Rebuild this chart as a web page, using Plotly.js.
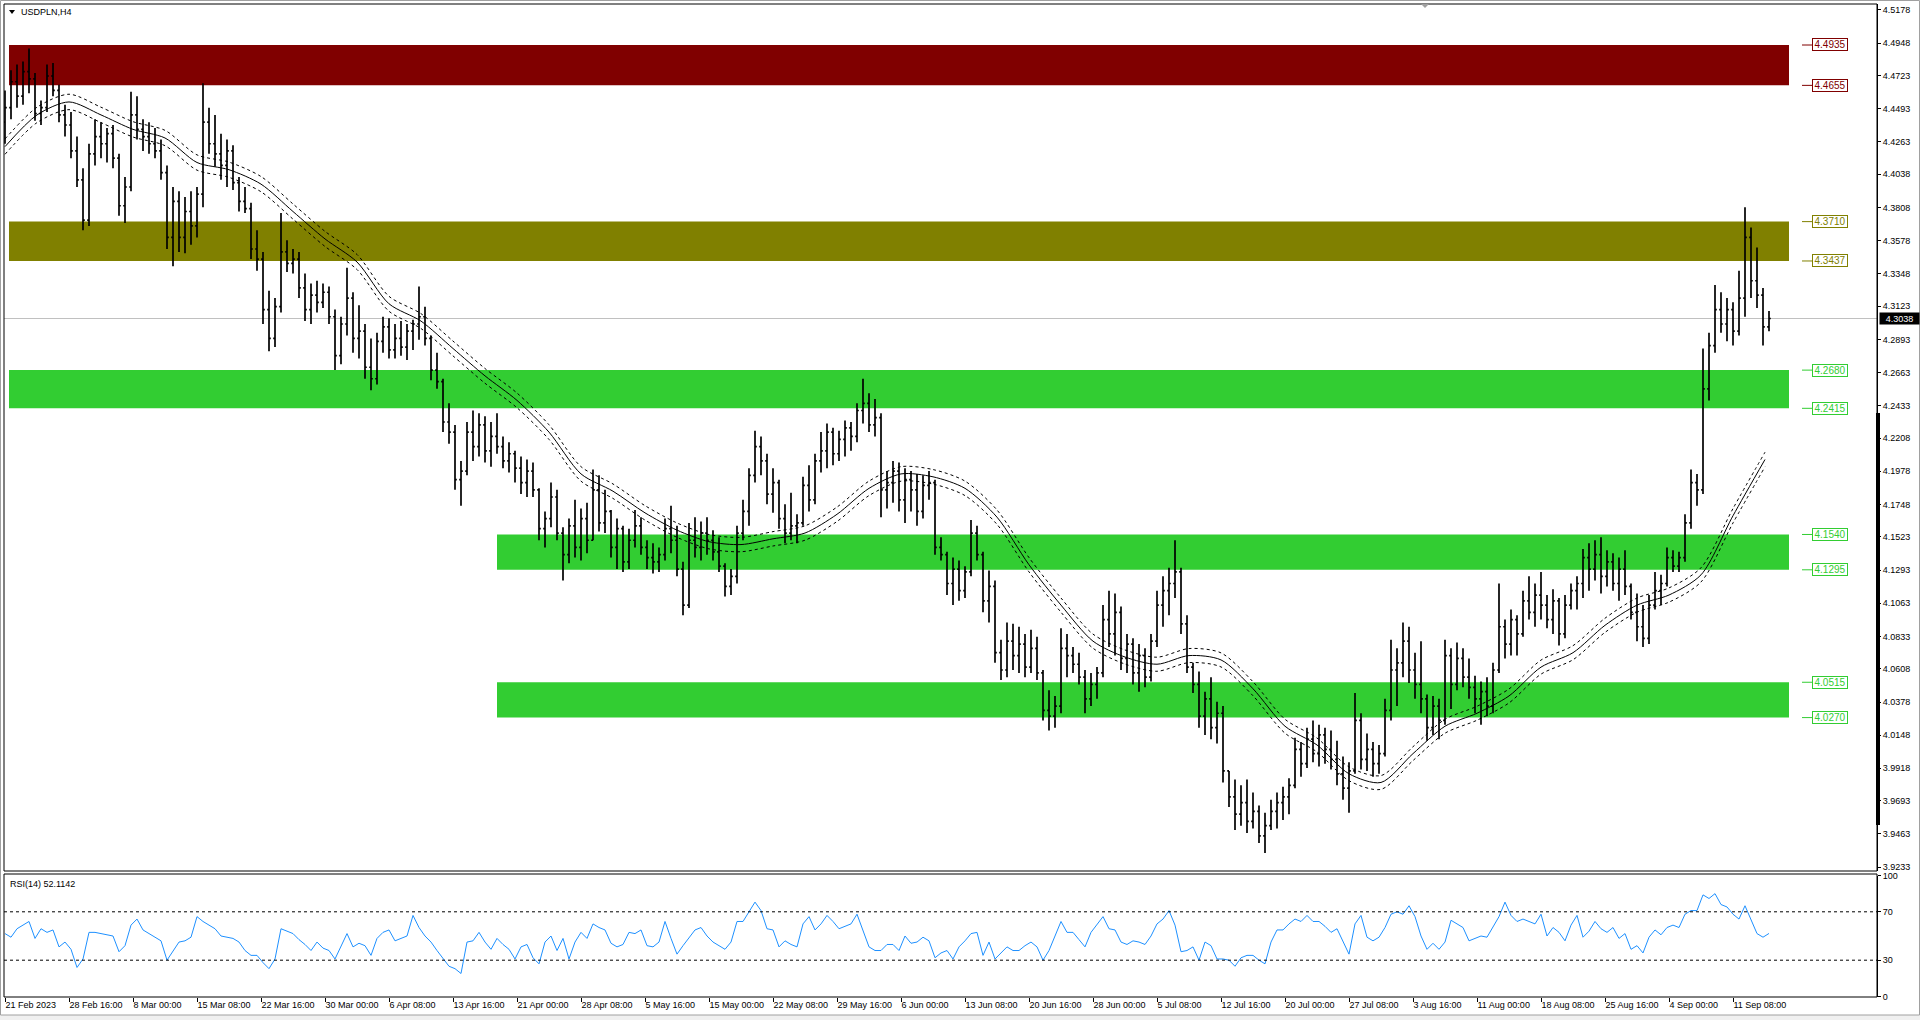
<!DOCTYPE html>
<html><head><meta charset="utf-8">
<script src="https://cdn.plot.ly/plotly-3.0.1.min.js"></script>
<style>html,body{margin:0;padding:0;background:#fff;overflow:hidden}#chart{width:1920px;height:1020px}</style>
</head><body><div id="chart"></div>
<script>
// ---------- data ----------
const symbolTitle = "USDPLN,H4";
const rsiTitle = "RSI(14) 52.1142";
const barStep = 3; // each drawn bar spans 3 H4 bars

const barOpen = [
4.440,4.450,4.468,4.458,4.475,4.470,4.446,4.450,4.472,4.462,
4.445,4.438,4.420,4.400,4.372,4.418,4.430,4.425,4.432,4.415,
4.382,4.395,4.445,4.435,4.430,4.425,4.420,4.405,4.360,4.385,
4.360,4.378,4.368,4.390,4.440,4.425,4.418,4.410,4.420,4.398,
4.385,4.380,4.352,4.345,4.310,4.290,4.312,4.350,4.342,4.345,
4.325,4.310,4.320,4.315,4.322,4.305,4.278,4.300,4.318,4.290,
4.295,4.270,4.262,4.288,4.298,4.282,4.290,4.284,4.295,4.300,
4.305,4.290,4.268,4.260,4.232,4.225,4.192,4.198,4.225,4.215,
4.230,4.212,4.222,4.215,4.205,4.210,4.200,4.190,4.198,4.185,
4.158,4.165,4.180,4.155,4.140,4.160,4.145,4.165,4.150,4.185,
4.162,4.170,4.145,4.158,4.135,4.150,4.160,4.145,4.138,4.135,
4.140,4.158,4.150,4.130,4.105,4.150,4.145,4.155,4.150,4.142,
4.132,4.118,4.125,4.155,4.170,4.195,4.215,4.205,4.182,4.190,
4.165,4.155,4.160,4.162,4.188,4.178,4.205,4.212,4.225,4.210,
4.220,4.228,4.222,4.240,4.245,4.230,4.235,4.185,4.190,4.198,
4.178,4.192,4.185,4.170,4.188,4.190,4.145,4.140,4.120,4.130,
4.115,4.128,4.155,4.140,4.108,4.118,4.072,4.060,4.080,4.070,
4.078,4.062,4.075,4.058,4.032,4.028,4.035,4.075,4.070,4.064,
4.055,4.040,4.050,4.058,4.095,4.085,4.100,4.068,4.078,4.058,
4.070,4.055,4.080,4.105,4.115,4.120,4.128,4.092,4.062,4.050,
4.028,4.040,4.020,4.030,3.990,3.972,3.960,3.968,3.955,3.962,
3.945,3.952,3.962,3.968,3.972,3.980,4.005,3.995,4.012,4.002,
4.015,4.005,3.998,3.988,3.978,3.990,4.025,3.998,4.005,3.995,
4.002,4.032,4.060,4.065,4.080,4.060,4.050,4.040,4.020,4.035,
4.025,4.070,4.050,4.068,4.055,4.048,4.040,4.045,4.035,4.060,
4.090,4.078,4.095,4.085,4.108,4.100,4.112,4.105,4.095,4.108,
4.085,4.105,4.115,4.120,4.138,4.130,4.140,4.125,4.135,4.120,
4.130,4.118,4.100,4.090,4.082,4.105,4.115,4.120,4.138,4.132,
4.138,4.162,4.190,4.185,4.255,4.285,4.310,4.300,4.310,4.295,
4.318,4.360,4.330,4.320,4.298];

const barHigh = [
4.462,4.476,4.480,4.482,4.491,4.474,4.455,4.480,4.481,4.466,
4.452,4.447,4.430,4.408,4.425,4.442,4.440,4.436,4.438,4.418,
4.402,4.461,4.458,4.442,4.440,4.436,4.428,4.410,4.395,4.392,
4.388,4.392,4.395,4.467,4.450,4.445,4.432,4.428,4.424,4.402,
4.395,4.384,4.365,4.350,4.323,4.318,4.377,4.358,4.352,4.350,
4.335,4.328,4.330,4.328,4.326,4.310,4.305,4.339,4.322,4.313,
4.300,4.290,4.294,4.305,4.304,4.300,4.302,4.300,4.303,4.326,
4.312,4.292,4.280,4.262,4.245,4.230,4.205,4.232,4.240,4.238,
4.236,4.232,4.238,4.222,4.218,4.212,4.208,4.206,4.204,4.186,
4.170,4.190,4.185,4.159,4.165,4.178,4.172,4.176,4.199,4.195,
4.185,4.171,4.165,4.160,4.158,4.171,4.166,4.150,4.148,4.145,
4.165,4.174,4.160,4.135,4.162,4.166,4.163,4.166,4.157,4.152,
4.134,4.130,4.160,4.178,4.200,4.226,4.222,4.210,4.200,4.192,
4.175,4.183,4.168,4.194,4.202,4.210,4.225,4.231,4.228,4.226,
4.233,4.232,4.245,4.262,4.252,4.248,4.238,4.198,4.205,4.204,
4.200,4.198,4.196,4.195,4.198,4.192,4.152,4.142,4.138,4.136,
4.132,4.164,4.160,4.142,4.129,4.122,4.081,4.093,4.092,4.090,
4.085,4.088,4.083,4.060,4.046,4.042,4.089,4.085,4.076,4.072,
4.060,4.058,4.062,4.105,4.115,4.113,4.104,4.085,4.082,4.078,
4.075,4.085,4.115,4.125,4.131,4.150,4.131,4.098,4.065,4.059,
4.045,4.055,4.038,4.035,3.990,3.984,3.980,3.984,3.975,3.966,
3.961,3.970,3.975,3.979,3.985,4.013,4.010,4.020,4.025,4.022,
4.020,4.018,4.011,4.000,3.996,4.044,4.030,4.016,4.010,4.008,
4.040,4.081,4.075,4.093,4.090,4.072,4.080,4.043,4.042,4.040,
4.081,4.075,4.079,4.075,4.068,4.056,4.052,4.055,4.065,4.120,
4.095,4.102,4.098,4.115,4.125,4.120,4.128,4.112,4.116,4.110,
4.112,4.120,4.125,4.144,4.148,4.150,4.152,4.143,4.141,4.138,
4.143,4.120,4.113,4.105,4.112,4.128,4.126,4.145,4.143,4.142,
4.168,4.199,4.196,4.283,4.294,4.327,4.322,4.318,4.315,4.337,
4.381,4.367,4.353,4.325,4.309];

const barLow = [
4.425,4.442,4.450,4.452,4.460,4.441,4.438,4.447,4.458,4.440,
4.430,4.415,4.395,4.365,4.368,4.410,4.415,4.412,4.408,4.375,
4.370,4.392,4.428,4.420,4.418,4.415,4.400,4.352,4.340,4.350,
4.349,4.355,4.360,4.381,4.418,4.409,4.400,4.395,4.393,4.378,
4.377,4.345,4.337,4.300,4.281,4.284,4.308,4.336,4.335,4.318,
4.302,4.300,4.308,4.311,4.300,4.268,4.272,4.292,4.280,4.276,
4.262,4.254,4.258,4.280,4.276,4.276,4.278,4.275,4.282,4.289,
4.285,4.261,4.255,4.225,4.217,4.185,4.174,4.195,4.205,4.208,
4.204,4.201,4.210,4.200,4.197,4.190,4.182,4.180,4.180,4.150,
4.145,4.159,4.150,4.122,4.134,4.138,4.136,4.141,4.150,4.156,
4.155,4.138,4.130,4.128,4.130,4.145,4.140,4.130,4.127,4.128,
4.136,4.141,4.125,4.098,4.103,4.138,4.136,4.140,4.136,4.128,
4.111,4.112,4.120,4.150,4.160,4.190,4.195,4.175,4.169,4.158,
4.148,4.150,4.148,4.160,4.170,4.175,4.197,4.200,4.202,4.205,
4.208,4.212,4.218,4.231,4.225,4.222,4.166,4.172,4.176,4.170,
4.162,4.170,4.160,4.165,4.178,4.140,4.136,4.112,4.105,4.108,
4.110,4.125,4.136,4.100,4.093,4.065,4.053,4.055,4.060,4.058,
4.055,4.058,4.053,4.025,4.018,4.020,4.030,4.055,4.058,4.050,
4.030,4.035,4.040,4.055,4.076,4.070,4.060,4.058,4.050,4.045,
4.048,4.052,4.076,4.090,4.098,4.110,4.085,4.058,4.044,4.020,
4.015,4.012,4.009,3.982,3.965,3.949,3.952,3.947,3.950,3.940,
3.933,3.949,3.950,3.956,3.960,3.978,3.986,3.992,3.996,3.993,
3.995,3.991,3.980,3.970,3.961,3.988,3.991,3.990,3.986,3.988,
4.000,4.025,4.035,4.055,4.051,4.040,4.030,4.011,4.015,4.012,
4.022,4.033,4.046,4.048,4.040,4.030,4.022,4.028,4.030,4.058,
4.068,4.070,4.070,4.083,4.095,4.090,4.095,4.089,4.085,4.077,
4.082,4.102,4.102,4.110,4.115,4.122,4.113,4.118,4.115,4.108,
4.112,4.095,4.080,4.076,4.078,4.102,4.105,4.118,4.128,4.128,
4.135,4.158,4.174,4.182,4.247,4.280,4.294,4.288,4.285,4.292,
4.305,4.318,4.311,4.285,4.295];

const barClose = [
4.450,4.468,4.458,4.475,4.470,4.446,4.450,4.472,4.462,4.445,
4.438,4.420,4.400,4.372,4.418,4.430,4.425,4.432,4.415,4.382,
4.395,4.445,4.435,4.430,4.425,4.420,4.405,4.360,4.385,4.360,
4.378,4.368,4.390,4.440,4.425,4.418,4.410,4.420,4.398,4.385,
4.380,4.352,4.345,4.310,4.290,4.312,4.350,4.342,4.345,4.325,
4.310,4.320,4.315,4.322,4.305,4.278,4.300,4.318,4.290,4.295,
4.270,4.262,4.288,4.298,4.282,4.290,4.284,4.295,4.300,4.305,
4.290,4.268,4.260,4.232,4.225,4.192,4.198,4.225,4.215,4.230,
4.212,4.222,4.215,4.205,4.210,4.200,4.190,4.198,4.185,4.158,
4.165,4.180,4.155,4.140,4.160,4.145,4.165,4.150,4.185,4.162,
4.170,4.145,4.158,4.135,4.150,4.160,4.145,4.138,4.135,4.140,
4.158,4.150,4.130,4.105,4.150,4.145,4.155,4.150,4.142,4.132,
4.118,4.125,4.155,4.170,4.195,4.215,4.205,4.182,4.190,4.165,
4.155,4.160,4.162,4.188,4.178,4.205,4.212,4.225,4.210,4.220,
4.228,4.222,4.240,4.245,4.230,4.235,4.185,4.190,4.198,4.178,
4.192,4.185,4.170,4.188,4.190,4.145,4.140,4.120,4.130,4.115,
4.128,4.155,4.140,4.108,4.118,4.072,4.060,4.080,4.070,4.078,
4.062,4.075,4.058,4.032,4.028,4.035,4.075,4.070,4.064,4.055,
4.040,4.050,4.058,4.095,4.085,4.100,4.068,4.078,4.058,4.070,
4.055,4.080,4.105,4.115,4.120,4.128,4.092,4.062,4.050,4.028,
4.040,4.020,4.030,3.990,3.972,3.960,3.968,3.955,3.962,3.945,
3.952,3.962,3.968,3.972,3.980,4.005,3.995,4.012,4.002,4.015,
4.005,3.998,3.988,3.978,3.990,4.025,3.998,4.005,3.995,4.002,
4.032,4.060,4.065,4.080,4.060,4.050,4.040,4.020,4.035,4.025,
4.070,4.050,4.068,4.055,4.048,4.040,4.045,4.035,4.060,4.090,
4.078,4.095,4.085,4.108,4.100,4.112,4.105,4.095,4.108,4.085,
4.105,4.115,4.120,4.138,4.130,4.140,4.125,4.135,4.120,4.130,
4.118,4.100,4.090,4.082,4.105,4.115,4.120,4.138,4.132,4.138,
4.162,4.190,4.185,4.255,4.285,4.310,4.300,4.310,4.295,4.318,
4.360,4.330,4.320,4.298,4.3038];

// moving average (read every 16 H4 bars)
const maStep = 16;
const maValues = [
4.423,4.445,4.454,4.445,4.435,4.429,4.412,4.407,4.397,4.378,
4.359,4.343,4.314,4.302,4.283,4.264,4.247,4.225,4.196,4.184,
4.169,4.157,4.149,4.147,4.151,4.155,4.168,4.186,4.196,4.194,
4.186,4.166,4.133,4.105,4.080,4.069,4.064,4.070,4.067,4.047,
4.021,4.008,3.988,3.982,4.002,4.021,4.030,4.042,4.062,4.072,
4.091,4.105,4.112,4.126,4.167,4.206];
const envelopePct = 0.12;

// RSI(14), one reading per drawn bar
const rsiValues = [
52,49,56,59,62,48,56,53,55,41,
45,39,24,31,53,53,52,51,50,37,
42,59,64,55,52,49,46,30,37,45,
46,49,66,62,59,56,50,49,48,45,
38,34,34,28,23,31,56,54,52,47,
43,38,45,40,38,31,42,52,41,44,
42,34,48,53,55,46,48,50,67,57,
50,45,38,31,25,23,19,45,46,53,
45,39,48,43,39,31,41,43,32,27,
45,50,38,48,31,45,53,48,60,57,
55,44,41,43,53,52,55,42,41,45,
62,48,35,42,49,55,57,50,45,42,
39,45,62,62,70,78,71,56,55,41,
46,43,41,60,66,55,60,67,62,56,
58,60,68,55,41,38,38,43,43,38,
50,44,45,49,46,32,36,38,31,41,
46,52,53,34,45,31,36,41,38,38,
42,45,41,30,38,50,62,53,53,47,
41,53,60,66,56,55,45,43,46,45,
43,50,60,64,71,59,37,38,41,30,
45,42,31,31,30,25,32,34,34,30,
27,45,55,55,60,64,62,67,62,62,
58,53,56,46,35,60,67,49,46,49,
57,68,70,68,75,66,50,39,44,39,
45,63,60,57,46,48,50,49,58,66,
78,67,62,64,62,60,68,50,57,53,
46,59,67,49,54,62,56,53,57,48,
52,39,42,36,49,55,51,57,59,57,
68,71,71,84,81,85,76,74,68,64,
75,64,52,49,52.1142];
const rsiLevels = [30, 70];
const rsiTicks = [0, 30, 70, 100];

const dateLabelStep = 32;
const dateLabels = ["21 Feb 2023","28 Feb 16:00","8 Mar 00:00","15 Mar 08:00","22 Mar 16:00","30 Mar 00:00",
"6 Apr 08:00","13 Apr 16:00","21 Apr 00:00","28 Apr 08:00","5 May 16:00","15 May 00:00","22 May 08:00",
"29 May 16:00","6 Jun 00:00","13 Jun 08:00","20 Jun 16:00","28 Jun 00:00","5 Jul 08:00","12 Jul 16:00",
"20 Jul 00:00","27 Jul 08:00","3 Aug 16:00","11 Aug 00:00","18 Aug 08:00","25 Aug 16:00","4 Sep 00:00","11 Sep 08:00"];

const priceTicks = [4.5178,4.4948,4.4723,4.4493,4.4263,4.4038,4.3808,4.3578,4.3348,4.3123,4.2893,4.2663,
4.2433,4.2208,4.1978,4.1748,4.1523,4.1293,4.1063,4.0833,4.0608,4.0378,4.0148,3.9918,3.9693,3.9463,3.9233];
const currentPrice = 4.3038;

// zones (rectangles) with their level labels
const zoneTop = [4.4935, 4.3710, 4.2680, 4.1540, 4.0515];
const zoneBottom = [4.4655, 4.3437, 4.2415, 4.1295, 4.0270];
const zoneStartBar = [2, 2, 2, 246, 246];
const zoneEndBar = [892, 892, 892, 892, 892];
const zoneColor = ["#800000", "#808000", "#32cd32", "#32cd32", "#32cd32"];

// ---------- drawing ----------
const W = 1920, H = 1020;
const px = x => x / W;
const py = y => 1 - y / H;
const FONT = "Liberation Sans, Arial, sans-serif";

const barX = barClose.map((_, j) => j * barStep);
const maX = maValues.map((_, k) => k * maStep);
const maUpper = maValues.map(v => v * (1 + envelopePct / 100));
const maLower = maValues.map(v => v * (1 - envelopePct / 100));

const traces = [
  {type: "ohlc", x: barX, open: barOpen, high: barHigh, low: barLow, close: barClose,
   xaxis: "x", yaxis: "y", tickwidth: 0.3, hoverinfo: "skip",
   increasing: {line: {color: "#000", width: 1.7}}, decreasing: {line: {color: "#000", width: 1.7}}},
  {type: "scatter", mode: "lines", x: maX, y: maValues, xaxis: "x", yaxis: "y", hoverinfo: "skip",
   line: {color: "#000", width: 1, shape: "spline", smoothing: 0.8}},
  {type: "scatter", mode: "lines", x: maX, y: maUpper, xaxis: "x", yaxis: "y", hoverinfo: "skip",
   line: {color: "#000", width: 1, dash: "3px,3px", shape: "spline", smoothing: 0.8}},
  {type: "scatter", mode: "lines", x: maX, y: maLower, xaxis: "x", yaxis: "y", hoverinfo: "skip",
   line: {color: "#000", width: 1, dash: "3px,3px", shape: "spline", smoothing: 0.8}},
  {type: "scatter", mode: "lines", x: barX, y: rsiValues, xaxis: "x", yaxis: "y2", hoverinfo: "skip",
   line: {color: "#1e90ff", width: 1}}
];

const shapes = [];
const annotations = [];

// outer window frame
shapes.push({type: "rect", xref: "paper", yref: "paper", x0: px(0), x1: px(1920), y0: py(1020), y1: py(1015),
  fillcolor: "#f0f0f0", line: {width: 0}, layer: "below"});
shapes.push({type: "rect", xref: "paper", yref: "paper", x0: px(0.5), x1: px(1919.5), y0: py(1015), y1: py(0.5),
  fillcolor: "rgba(0,0,0,0)", line: {color: "#a0a0a0", width: 1}});

zoneTop.forEach((top, i) => {
  shapes.push({type: "rect", xref: "x", yref: "y", x0: zoneStartBar[i], x1: zoneEndBar[i],
    y0: zoneBottom[i], y1: top, fillcolor: zoneColor[i], line: {width: 0}, layer: "below"});
  [top, zoneBottom[i]].forEach(v => {
    shapes.push({type: "line", xref: "paper", yref: "y", x0: px(1802), x1: px(1812), y0: v, y1: v,
      line: {color: zoneColor[i], width: 1}});
    annotations.push({xref: "paper", yref: "y", x: px(1812), y: v, xanchor: "left", yanchor: "middle",
      text: v.toFixed(4), showarrow: false, font: {family: FONT, size: 10, color: zoneColor[i]},
      bgcolor: "#fff", bordercolor: zoneColor[i], borderwidth: 1, borderpad: 0, width: 34, height: 11});
  });
});

// current price line and label
shapes.push({type: "line", xref: "paper", yref: "y", x0: px(4), x1: px(1877), y0: currentPrice, y1: currentPrice,
  line: {color: "#c0c0c0", width: 1}, layer: "below"});
annotations.push({xref: "paper", yref: "y", x: px(1879), y: currentPrice, xanchor: "left", yanchor: "middle",
  text: currentPrice.toFixed(4), showarrow: false, font: {family: FONT, size: 9, color: "#fff"},
  bgcolor: "#000", borderpad: 0, width: 39, height: 11});

// RSI levels
rsiLevels.forEach(v => shapes.push({type: "line", xref: "paper", yref: "y2", x0: px(4), x1: px(1877), y0: v, y1: v,
  line: {color: "#000", width: 1, dash: "3px,3px"}}));

// panel frames
shapes.push({type: "rect", xref: "paper", yref: "paper", x0: px(4), x1: px(1877), y0: py(871), y1: py(4),
  fillcolor: "rgba(0,0,0,0)", line: {color: "#000", width: 1}});
shapes.push({type: "rect", xref: "paper", yref: "paper", x0: px(4), x1: px(1877), y0: py(997), y1: py(874),
  fillcolor: "rgba(0,0,0,0)", line: {color: "#000", width: 1}});

// scroll bar marker on the price scale
shapes.push({type: "rect", xref: "paper", yref: "y", x0: px(1876), x1: px(1880), y0: 3.9525, y1: 4.2383,
  fillcolor: "#000", line: {width: 0}});
// chart shift marker
shapes.push({type: "path", xref: "paper", yref: "paper",
  path: `M ${px(1421)} ${py(4)} L ${px(1429)} ${py(4)} L ${px(1425)} ${py(8)} Z`,
  fillcolor: "#a0a0a0", line: {width: 0}});
// title triangle
shapes.push({type: "path", xref: "paper", yref: "paper",
  path: `M ${px(9)} ${py(10)} L ${px(15)} ${py(10)} L ${px(12)} ${py(14)} Z`,
  fillcolor: "#000", line: {width: 0}});

annotations.push({xref: "paper", yref: "paper", x: px(19), y: py(12), xanchor: "left", yanchor: "middle",
  text: symbolTitle, showarrow: false, font: {family: FONT, size: 9, color: "#000"}});
annotations.push({xref: "paper", yref: "paper", x: px(8), y: py(884), xanchor: "left", yanchor: "middle",
  text: rsiTitle, showarrow: false, font: {family: FONT, size: 9, color: "#000"}});

const yTop = 4.4935 + (45 - 4) * 0.0006936;
const yBot = 4.4935 - (871 - 45) * 0.0006936;

const layout = {
  width: W, height: H, margin: {l: 0, r: 0, t: 0, b: 0},
  paper_bgcolor: "#fff", plot_bgcolor: "#fff", showlegend: false,
  font: {family: FONT, size: 9, color: "#000"},
  xaxis: {domain: [px(4), px(1877)], range: [-0.5, 936], anchor: "y2", showgrid: false, zeroline: false,
    showline: false, ticks: "outside", ticklen: 4, tickcolor: "#000", tickwidth: 1,
    tickmode: "array", tickvals: dateLabels.map((_, k) => k * dateLabelStep), ticktext: dateLabels,
    ticklabelposition: "outside right", tickfont: {family: FONT, size: 9, color: "#000"},
    rangeslider: {visible: false}, fixedrange: true},
  yaxis: {domain: [py(871), py(4)], range: [yBot, yTop], side: "right", anchor: "x",
    showgrid: false, zeroline: false, showline: true, linecolor: "#000", linewidth: 1,
    ticks: "outside", ticklen: 3, tickcolor: "#000", tickmode: "array", tickvals: priceTicks,
    ticktext: priceTicks.map(v => v.toFixed(4)), tickfont: {family: FONT, size: 9, color: "#000"}, fixedrange: true},
  yaxis2: {domain: [py(996.5), py(875.5)], range: [0, 100], side: "right", anchor: "x",
    showgrid: false, zeroline: false, showline: true, linecolor: "#000", linewidth: 1,
    ticks: "outside", ticklen: 3, tickcolor: "#000", tickmode: "array", tickvals: rsiTicks,
    tickfont: {family: FONT, size: 9, color: "#000"}, fixedrange: true},
  shapes: shapes, annotations: annotations
};

Plotly.newPlot("chart", traces, layout, {staticPlot: true, displayModeBar: false});
</script>
</body></html>
